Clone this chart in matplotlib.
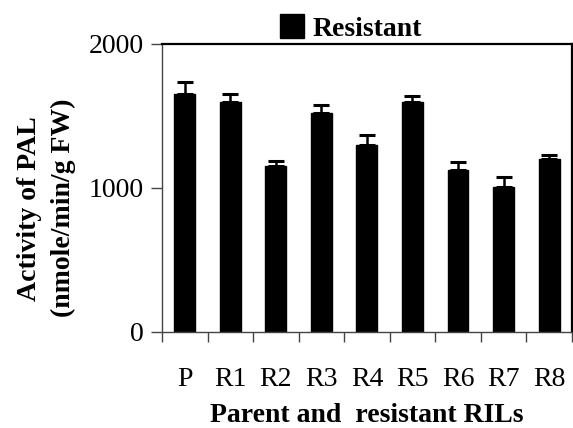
import matplotlib
matplotlib.use("Agg")
import matplotlib.pyplot as plt
from matplotlib.lines import Line2D
import numpy as np

categories = ["P", "R1", "R2", "R3", "R4", "R5", "R6", "R7", "R8"]
values = [1655, 1595, 1155, 1523, 1296, 1595, 1127, 1009, 1199]
errors = [80, 55, 30, 55, 70, 45, 56, 67, 32]
yticks = [0, 1000, 2000]
series_name = "Resistant"

plt.rcParams['font.family'] = ['Liberation Serif', 'DejaVu Serif']

fig = plt.figure(figsize=(5.73, 4.28), dpi=100)
ax = fig.add_axes([0.2827, 0.2243, 0.998 - 0.2827, 0.8972 - 0.2243])

x = np.arange(len(categories))
ax.bar(x, values, width=0.46, color='black', edgecolor='black', zorder=2)
ax.errorbar(x, values, yerr=[np.zeros(len(errors)), errors], fmt='none',
            ecolor='black', elinewidth=1.8, capsize=5.8, capthick=2.2, zorder=3)

ax.set_xlim(-0.5, len(categories) - 0.5)
ax.set_ylim(0, 2000)
ax.set_yticks(yticks)
ax.set_yticklabels([str(v) for v in yticks], fontsize=20)
ax.set_xticks(x)
ax.set_xticklabels(categories, fontsize=20)
ax.set_xticks(np.arange(-0.5, len(categories)), minor=True)
ax.tick_params(axis='x', which='major', length=0, pad=25)
ax.tick_params(axis='x', which='minor', length=7, width=1, direction='out', color='#444444')
ax.tick_params(axis='y', which='major', length=8, width=1, direction='out', color='#444444', pad=5)

for s in ['left', 'bottom']:
    ax.spines[s].set_color('#444444')
    ax.spines[s].set_linewidth(1.0)
ax.spines['top'].set_color('black')
ax.spines['top'].set_linewidth(1.6)
ax.spines['right'].set_color('black')
ax.spines['right'].set_linewidth(1.6)

ax.set_xlabel("Parent and  resistant RILs", fontsize=20, fontweight='bold', labelpad=8)
ax.set_ylabel("Activity of PAL\n(nmole/min/g FW)", fontsize=20, fontweight='bold',
              linespacing=1.45)
ax.yaxis.set_label_coords(-0.21, 0.43)

handle = Line2D([], [], marker='s', linestyle='none', markersize=17,
                markerfacecolor='black', markeredgecolor='black')
leg = ax.legend([handle], [series_name], loc='lower center', bbox_to_anchor=(0.46, 0.97),
                frameon=False, prop={'weight': 'bold', 'size': 20},
                handletextpad=0.3, borderaxespad=0, handlelength=0.9)

fig.savefig("out.png", dpi=100)
